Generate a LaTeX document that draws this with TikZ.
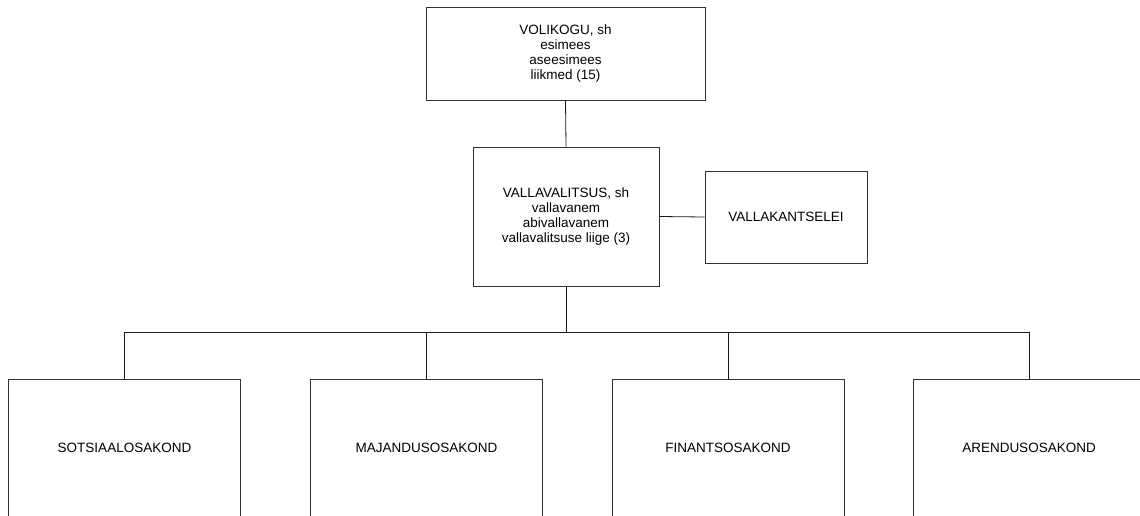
\documentclass[tikz,border=0pt]{standalone}
\usepackage{fontspec}
\setmainfont{Liberation Sans}
\begin{document}
\begin{tikzpicture}[x=1pt,y=-1pt,
  box/.style={draw=black!80, line width=0.8pt, inner sep=0pt, align=center,
    font=\fontsize{13.5}{15.3}\selectfont},
  link/.style={draw=black!90, line width=0.8pt}]
\useasboundingbox (0,0) rectangle (1140,515);
\clip (0,0) rectangle (1140,515);
\node[box, minimum width=279pt, minimum height=93pt] (vol) at (565.5,53.5)
  {VOLIKOGU, sh\\esimees\\aseesimees\\liikmed (15)};
\node[box, minimum width=186pt, minimum height=139pt] (vv) at (566,216.5)
  {VALLAVALITSUS, sh\\vallavanem\\abivallavanem\\vallavalitsuse liige (3)};
\node[box, minimum width=162pt, minimum height=92pt] (vk) at (786,217)
  {VALLAKANTSELEI};
\node[box, minimum width=232pt, minimum height=138pt] (b1) at (124.5,448) {SOTSIAALOSAKOND};
\node[box, minimum width=232pt, minimum height=138pt] (b2) at (426.5,448) {MAJANDUSOSAKOND};
\node[box, minimum width=232pt, minimum height=138pt] (b3) at (728,448) {FINANTSOSAKOND};
\node[box, minimum width=232pt, minimum height=138pt] (b4) at (1029,448) {ARENDUSOSAKOND};
\coordinate (bus) at (566,332);
\draw[link] (vol.south) -- (vv.north);
\draw[link] (vv.east) -- (vk.west);
\draw[link] (vv.south) -- (bus);
\draw[link] (bus) -| (b1.north);
\draw[link] (bus) -| (b2.north);
\draw[link] (bus) -| (b3.north);
\draw[link] (bus) -| (b4.north);
\end{tikzpicture}
\end{document}
